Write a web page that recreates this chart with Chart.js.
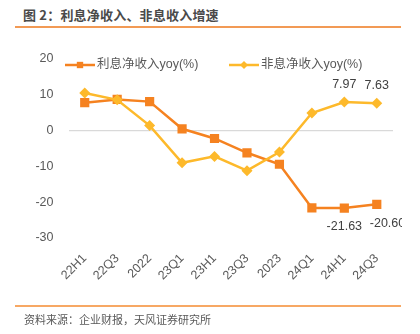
<!DOCTYPE html>
<html><head><meta charset="utf-8">
<script src="https://cdn.jsdelivr.net/npm/chart.js@4/dist/chart.umd.min.js"></script>
<style>
html,body{margin:0;padding:0;background:#fff;}
#wrap{position:relative;width:420px;height:334px;overflow:hidden;background:#fff;}
#title{position:absolute;left:23px;top:5px;font:bold 13px "Noto Sans CJK SC",sans-serif;color:#4a4a4a;white-space:nowrap;letter-spacing:0.2px;}
#topline{position:absolute;left:15px;top:26px;width:386px;height:1.5px;background:#F29A55;}
#botline{position:absolute;left:15px;top:305px;width:386px;height:2px;background:#F7A864;}
#source{position:absolute;left:24px;top:311px;font:11px "Noto Sans CJK SC",sans-serif;color:#595959;white-space:nowrap;}
canvas{position:absolute;left:0;top:0;}
</style></head>
<body>
<div id="wrap">
<div id="title">图 2：利息净收入、非息收入增速</div>
<div id="topline"></div>
<canvas id="c" width="420" height="334"></canvas>
<div id="botline"></div>
<div id="source">资料来源：企业财报，天风证券研究所</div>
</div>
<script>
const categories = ['22H1','22Q3','2022','23Q1','23H1','23Q3','2023','24Q1','24H1','24Q3'];
const netInterestYoy = [7.8, 8.7, 8.1, 0.5, -2.2, -6.2, -9.4, -21.6, -21.63, -20.60];
const nonInterestYoy = [10.5, 8.6, 1.4, -9.0, -7.2, -11.2, -6.0, 4.9, 7.97, 7.63];
const seriesNames = ['利息净收入yoy(%)', '非息净收入yoy(%)'];
const yMin = -30, yMax = 20, yStep = 10;
const labelledIndices = [8, 9];

const ORANGE = '#F58220';
const YELLOW = '#FDB92B';
const FONT = '"Liberation Sans","Noto Sans CJK SC",sans-serif';

const overlay = {
  id: 'overlay',
  afterDatasetsDraw(chart) {
    const ctx = chart.ctx;
    ctx.save();
    ctx.beginPath(); ctx.rect(0, 0, 402, 334); ctx.clip();
    ctx.font = '12.5px ' + FONT;
    ctx.fillStyle = '#404040';
    ctx.textBaseline = 'middle';
    const m0 = chart.getDatasetMeta(0), m1 = chart.getDatasetMeta(1);
    labelledIndices.forEach((i, k) => {
      const pY = m1.data[i];
      ctx.textAlign = 'center';
      ctx.fillText(nonInterestYoy[i].toFixed(2), pY.x, pY.y - 18);
      const pO = m0.data[i];
      const last = k === labelledIndices.length - 1;
      ctx.textAlign = last ? 'left' : 'center';
      ctx.fillText(netInterestYoy[i].toFixed(2), last ? pO.x - 7 : pO.x, pO.y + 19);
    });
    ctx.restore();
    ctx.save();
    const items = [{x: 65, color: ORANGE, style: 'rect', r: 4.5}, {x: 229, color: YELLOW, style: 'rectRot', r: 4}];
    const ly = chart.chartArea.top + 6;
    ctx.font = '12.5px ' + FONT;
    ctx.textBaseline = 'middle';
    ctx.textAlign = 'left';
    items.forEach((it, k) => {
      ctx.strokeStyle = it.color; ctx.lineWidth = 2.5;
      ctx.beginPath(); ctx.moveTo(it.x, ly); ctx.lineTo(it.x + 30, ly); ctx.stroke();
      ctx.fillStyle = it.color;
      Chart.helpers.drawPoint(ctx, {pointStyle: it.style, radius: it.r, borderWidth: 0}, it.x + 15, ly);
      ctx.fillStyle = '#595959';
      ctx.fillText(seriesNames[k], it.x + 32, ly);
    });
    ctx.restore();
  }
};

new Chart(document.getElementById('c'), {
  type: 'line',
  data: {
    labels: categories,
    datasets: [
      {label: seriesNames[0], data: netInterestYoy, borderColor: ORANGE, backgroundColor: ORANGE,
       borderWidth: 2.5, pointStyle: 'rect', pointRadius: 6.5, pointBorderWidth: 0, tension: 0, order: 2},
      {label: seriesNames[1], data: nonInterestYoy, borderColor: YELLOW, backgroundColor: YELLOW,
       borderWidth: 2.5, pointStyle: 'rectRot', pointRadius: 5.5, pointBorderWidth: 0, tension: 0, order: 1}
    ]
  },
  options: {
    responsive: false, animation: false, devicePixelRatio: 1,
    layout: {padding: {left: 0, right: 27, top: 59, bottom: 0}},
    plugins: {legend: {display: false}, tooltip: {enabled: false}},
    scales: {
      x: {
        offset: true,
        grid: {display: false, drawTicks: false, offset: true}, border: {display: false},
        ticks: {autoSkip: false, maxRotation: 45, minRotation: 45, padding: 13, color: '#595959', font: {size: 12.5, family: FONT}},
        afterFit(s) { s.height = 96; }
      },
      y: {
        min: yMin, max: yMax,
        grid: {drawTicks: false, color: c => c.tick.value === 0 ? '#D9D9D9' : 'rgba(0,0,0,0)', lineWidth: 1.2},
        border: {display: false},
        ticks: {stepSize: yStep, padding: 15, color: '#595959', font: {size: 12.5, family: FONT}},
        afterFit(s) { s.width = 68.5; }
      }
    }
  },
  plugins: [overlay]
});
</script>
</body></html>
